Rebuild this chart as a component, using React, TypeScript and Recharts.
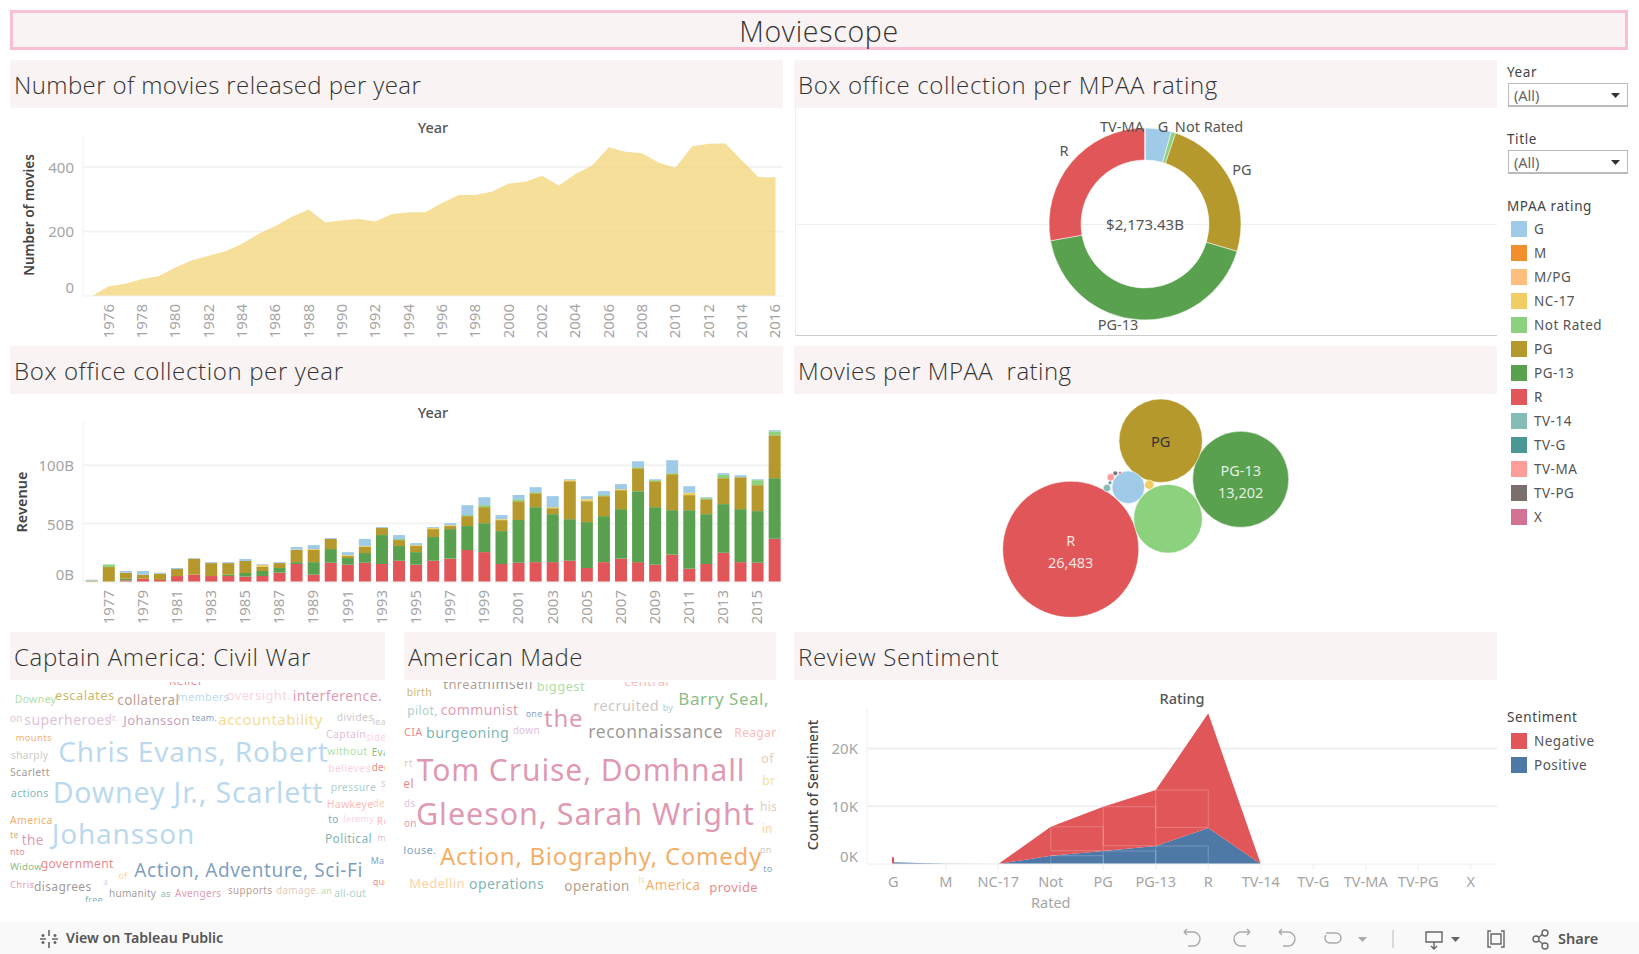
import { AreaChart, Area, BarChart, Bar, ComposedChart, PieChart, Pie, Cell, ScatterChart, Scatter, XAxis, YAxis, ZAxis, CartesianGrid, ReferenceArea } from 'recharts'

const FONT = '"Noto Sans", sans-serif'
const TITLE_FONT = '"Open Sans", sans-serif'

const colors: Record<string, string> = {
  G: '#a0cbe8', M: '#f28e2b', 'M/PG': '#ffbe7d', 'NC-17': '#f1ce63', 'Not Rated': '#8cd17d', PG: '#b6992d',
  'PG-13': '#59a14f', R: '#e15759', 'TV-14': '#86bcb6', 'TV-G': '#499894', 'TV-MA': '#ff9d9a', 'TV-PG': '#79706e', X: '#d37295',
}
const ratings = Object.keys(colors)

// movies per year
const movieYears = [1975, 1976, 1977, 1978, 1979, 1980, 1981, 1982, 1983, 1984, 1985, 1986, 1987, 1988, 1989, 1990, 1991, 1992, 1993, 1994, 1995, 1996, 1997, 1998, 1999, 2000, 2001, 2002, 2003, 2004, 2005, 2006, 2007, 2008, 2009, 2010, 2011, 2012, 2013, 2014, 2015, 2016]
const movieCounts = [0, 30, 38, 53, 61, 88, 111, 125, 139, 162, 193, 217, 246, 268, 228, 235, 239, 231, 254, 260, 260, 288, 313, 313, 324, 349, 354, 373, 343, 378, 405, 461, 447, 443, 413, 398, 464, 472, 473, 419, 368, 368]
const movieYearTicks = [1976, 1978, 1980, 1982, 1984, 1986, 1988, 1990, 1992, 1994, 1996, 1998, 2000, 2002, 2004, 2006, 2008, 2010, 2012, 2014, 2016]

// revenue per year in billions, stacked by rating
const revenueYears = ['1976', '1977', '1978', '1979', '1980', '1981', '1982', '1983', '1984', '1985', '1986', '1987', '1988', '1989', '1990', '1991', '1992', '1993', '1994', '1995', '1996', '1997', '1998', '1999', '2000', '2001', '2002', '2003', '2004', '2005', '2006', '2007', '2008', '2009', '2010', '2011', '2012', '2013', '2014', '2015', '2016']
const revenueYearTicks = revenueYears.filter((y) => Number(y) % 2 === 1)
const revR = [0, 0, 1.4, 2.8, 1.7, 5.1, 6.3, 5.1, 5.1, 4.6, 5.1, 8, 15.4, 6.3, 16.5, 14.8, 16.5, 15.4, 18.2, 14.8, 18.2, 20, 27.4, 25.6, 15.4, 16.5, 17, 17, 18.2, 12, 17, 20, 17, 14.8, 23.4, 11.4, 15.4, 25, 17, 16.5, 37]
const revPG13 = [0, 0, 1.4, 0, 0, 0, 0, 0, 1.2, 3.1, 4.3, 4, 1.6, 10.7, 11.7, 5.7, 8.3, 24.8, 12.6, 10.8, 20.3, 25.3, 20.5, 24.8, 28.2, 36.5, 47.1, 41.1, 35.6, 39.3, 39.4, 42.4, 60.8, 49.3, 38.1, 50.1, 42.7, 41.7, 45.4, 44.2, 51.9]
const revPG = [1.2, 12.8, 5.2, 3.5, 5.4, 6, 13.7, 11.1, 9.9, 10.3, 3.4, 4.2, 10.4, 10.4, 8.6, 1.7, 5.2, 6, 5.1, 5.2, 6.8, 2.6, 8.5, 13.7, 9.4, 16.2, 11.9, 5.1, 32.5, 17.9, 17.1, 16.2, 19.6, 22.2, 30.8, 12.9, 12.8, 22.2, 27.3, 22.2, 36.7]
const revNC17 = [0, 0, 0, 0, 0, 0, 0, 0, 0, 0, 2, 0, 0.3, 0.8, 0, 0.8, 0.8, 0, 0, 0.8, 0.9, 0.8, 0, 0, 0.8, 0, 0, 0.9, 0.9, 1.7, 0, 0.9, 0, 0, 0, 2, 0, 0, 0, 0, 0]
const revNR = [0, 2.2, 0, 0, 0, 0, 0, 0, 0, 0, 0, 0, 0, 0, 0, 0, 0, 0, 0.9, 0, 0, 0, 0.9, 1.7, 0, 1.7, 0.9, 0, 0, 0, 0.9, 0, 0.9, 0.9, 0.9, 0, 0.9, 2.8, 0, 4.3, 3.4]
const revG = [0.8, 0, 1.4, 3.1, 0.9, 0.9, 0.5, 0.8, 0.8, 1.7, 0.6, 0.8, 2.3, 3.4, 0.8, 2.6, 6, 0.8, 3.4, 1.7, 0.8, 1.7, 8.5, 6.8, 3.5, 3.5, 4.3, 9.4, 0.8, 2.6, 3.4, 4.3, 5.1, 0.8, 11.1, 5.6, 0.8, 1.5, 1.8, 0.8, 1]
const revSeries = [
  { key: 'R', values: revR },
  { key: 'PG-13', values: revPG13 },
  { key: 'PG', values: revPG },
  { key: 'NC-17', values: revNC17 },
  { key: 'Not Rated', values: revNR },
  { key: 'G', values: revG },
]

// box office per rating, billions
const donutNames = ['G', 'Not Rated', 'PG', 'PG-13', 'R', 'TV-MA']
const donutValues = [96.4, 16.3, 530.7, 926, 603.6, 0.43]
const donutLabelOffset: Record<string, [number, number]> = {
  G: [18, -97], 'Not Rated': [64, -97], PG: [97, -54], 'PG-13': [-27, 101], R: [-81, -73], 'TV-MA': [-23, -97],
}

// packed bubbles: placement in the 702x224 panel, counts from the bubble sizes
const bubbleNames = ['R', 'PG-13', 'PG', 'Not Rated', 'G', 'NC-17', 'TV-MA', 'TV-14', 'TV-G', 'TV-PG', 'X']
const bubbleCounts = [26483, 13202, 9960, 6740, 1520, 126, 78, 78, 17, 30, 13]
const bubbleX = [275.7, 445.7, 365.7, 373, 333.3, 354.3, 315.7, 312, 315, 320.3, 325]
const bubbleY = [156.3, 86.3, 47.7, 125.7, 94.3, 91.7, 84.3, 95, 89.7, 80.3, 79.7]

// sentiment
const sentimentRatings = ['G', 'M', 'NC-17', 'Not Rated', 'PG', 'PG-13', 'R', 'TV-14', 'TV-G', 'TV-MA', 'TV-PG', 'X']
const sentimentPositive = [290, 30, 0, 1440, 2250, 3110, 6220, 0, 0, 0, 0, 0]
const sentimentNegative = [0, 0, 0, 5015, 7664, 9685, 19850, 0, 0, 0, 0, 0]
const sentimentSpike = [1150, 0, 0, 0, 0, 0, 0, 0, 0, 0, 0, 0]

const civilWarWords = ['Keller', 'Downey', 'escalates', 'collateral', 'members', 'oversight.', 'interference.', 'on', 'superheroes', 'Jr.', 'Johansson', 'team.', 'accountability', 'divides', 'lea', 'mounts', 'Chris Evans, Robert', 'Captain', 'side', 'sharply', 'without', 'Eva', 'Scarlett', 'believes', 'dee', 'actions', 'Downey Jr., Scarlett', 'pressure', 's', 'Hawkeye', 'de', 'America', 'to', 'Jeremy', 'Ro', 'te', 'the', 'Johansson', 'Political', 'm', 'nto', 'Widow', 'government', 'of', 'Action, Adventure, Sci-Fi', 'Ma', 'Chris', 'a', 'disagrees', 'que', 'humanity', 'as', 'Avengers', 'supports', 'damage.', 'an', 'all-out', 'free']
// x, baseline (3x crop units), font size, colour
const civilWarPlacement: [number, number, number, string][] = [
  [507, 45, 12, '#e15759'], [44, 100, 10.5, '#8cd17d'], [165, 90, 13, '#b6992d'], [352, 105, 13.5, '#9d7660'], [532, 92, 11, '#a0cbe8'], [680, 90, 13, '#fabfd2'], [878, 92, 14, '#d37295'],
  [30, 157, 10, '#d4a6c8'], [73, 164, 14, '#d4a6c8'], [328, 152, 9, '#d4a6c8'], [370, 166, 13, '#b07aa1'], [575, 152, 9, '#4e79a7'], [655, 165, 15, '#f1ce63'], [1010, 152, 10.5, '#bab0ac'], [1118, 165, 9, '#bab0ac'],
  [47, 212, 9.5, '#f28e2b'], [175, 277, 28, '#a0cbe8'], [978, 205, 10.5, '#d4a6c8'], [1098, 212, 10, '#fabfd2'], [33, 268, 10.2, '#bab0ac'], [982, 256, 10.5, '#8cd17d'], [1115, 258, 10, '#59a14f'],
  [30, 318, 10.5, '#79706e'], [985, 306, 10.5, '#fabfd2'], [1115, 304, 10, '#e15759'], [33, 382, 10.5, '#499894'], [158, 398, 28.5, '#a0cbe8'], [992, 364, 10.5, '#86bcb6'], [1143, 350, 10, '#d4a6c8'],
  [980, 415, 10.5, '#ff9d9a'], [1118, 412, 10, '#ffbe7d'], [30, 462, 10.5, '#f28e2b'], [985, 458, 10, '#4e79a7'], [1030, 456, 9, '#fabfd2'], [1130, 465, 10, '#ff9d9a'], [30, 503, 9, '#b6992d'],
  [65, 525, 13.5, '#d37295'], [155, 523, 28, '#a0cbe8'], [975, 518, 12, '#499894'], [1132, 512, 9, '#d4a6c8'], [30, 555, 9, '#e15759'], [30, 600, 9.7, '#59a14f'], [122, 595, 12, '#e15759'], [355, 628, 9, '#ffbe7d'],
  [403, 620, 19, '#4e79a7'], [1112, 583, 9, '#4e79a7'], [30, 655, 9.5, '#d37295'], [310, 645, 8, '#a0cbe8'], [102, 662, 12, '#79706e'], [1118, 645, 9, '#e15759'], [327, 682, 10, '#79706e'], [482, 680, 9, '#499894'],
  [525, 682, 10, '#d37295'], [684, 673, 10, '#9d7660'], [828, 673, 10, '#d7b5a6'], [963, 673, 9, '#8cd17d'], [1003, 682, 10, '#86bcb6'], [255, 700, 9, '#499894'],
]

const americanMadeWords = ['threat', 'himself', 'biggest', 'central', 'birth', 'Barry Seal,', 'recruited', 'by', 'pilot,', 'communist', 'one', 'the', 'CIA', 'burgeoning', 'down', 'reconnaissance', 'Reagan', 'rt', 'Tom Cruise, Domhnall', 'of', 'el', 'br', 'ds', 'Gleeson, Sarah Wright', 'his', 'on', 'in', 'House.', 'Action, Biography, Comedy', 'on', 'to', 'Medellin', 'operations', 'operation', 'is', 'America', 'provide']
const americanMadePlacement: [number, number, number, string][] = [
  [145, 58, 13, '#9d7660'], [262, 58, 14, '#79706e'], [425, 64, 13, '#8cd17d'], [688, 47, 13, '#ff9d9a'], [35, 77, 10.5, '#b6992d'], [850, 105, 17, '#59a14f'], [595, 122, 14.5, '#bab0ac'], [803, 122, 9, '#86bcb6'],
  [37, 135, 12, '#86bcb6'], [137, 135, 14, '#d37295'], [392, 140, 9, '#4e79a7'], [447, 170, 24, '#d37295'], [27, 197, 11, '#e15759'], [93, 205, 14.3, '#499894'], [353, 192, 10, '#d4a6c8'], [580, 203, 17.5, '#79706e'], [1018, 202, 12, '#ff9d9a'],
  [27, 292, 11, '#d7b5a6'], [65, 333, 30, '#d37295'], [1098, 280, 13, '#d7b5a6'], [25, 353, 12, '#e15759'], [1102, 345, 12, '#f1ce63'], [27, 412, 10, '#d4a6c8'], [63, 465, 30.5, '#d37295'], [1095, 422, 12, '#d7b5a6'],
  [27, 472, 10, '#d37295'], [1100, 490, 12, '#ffbe7d'], [10, 552, 11, '#4e79a7'], [135, 585, 24, '#f28e2b'], [1095, 550, 9, '#bab0ac'], [1105, 605, 9, '#4e79a7'], [43, 655, 13, '#ffbe7d'], [222, 656, 14, '#499894'],
  [508, 662, 13.5, '#9d7660'], [730, 640, 8, '#ffbe7d'], [752, 660, 13.5, '#f28e2b'], [943, 665, 13, '#e15759'],
]

const movieData = movieYears.map((year, i) => ({ year, count: movieCounts[i] }))
const revenueData = revenueYears.map((year, i) => {
  const row: Record<string, string | number> = { year }
  revSeries.forEach((s) => { row[s.key] = s.values[i] })
  return row
})
const donutData = donutNames.map((name, i) => ({ name, value: donutValues[i] }))
const bubbleData = bubbleNames.map((name, i) => ({ name, x: bubbleX[i], y: bubbleY[i], z: bubbleCounts[i] }))
const sentimentData = sentimentRatings.map((rating, i) => ({ rating, positive: sentimentPositive[i], negative: sentimentNegative[i], spike: sentimentSpike[i] }))

const box = (left: number, top: number, width: number, height: number): React.CSSProperties => ({ position: 'absolute', left, top, width, height })

function Header({ left, top, width, text, spacing = 0.65 }: { left: number; top: number; width: number; text: string; spacing?: number }) {
  return (
    <div style={{ ...box(left, top, width, 47.5), background: '#f9f3f3', color: '#333', font: `300 24px ${TITLE_FONT}`, letterSpacing: spacing, lineHeight: '49px', paddingLeft: 4, boxSizing: 'border-box', whiteSpace: 'pre' }}>
      {text}
    </div>
  )
}

function Heading({ x, y, text }: { x: number; y: number; text: string }) {
  return <div style={{ position: 'absolute', left: x - 60, width: 120, top: y - 9, height: 20, lineHeight: '20px', textAlign: 'center', font: `500 14.5px ${FONT}`, color: '#555' }}>{text}</div>
}

function VerticalTitle({ x, y, text, weight = 600, size = 13.5 }: { x: number; y: number; text: string; weight?: number; size?: number }) {
  return (
    <div style={{ position: 'absolute', left: x - 100, width: 200, top: y - 10, height: 20, lineHeight: '20px', textAlign: 'center', transform: 'rotate(-90deg)', font: `${weight} ${size}px ${FONT}`, color: '#444' }}>
      {text}
    </div>
  )
}

// tableau pushes the bottom label up so it stays inside the pane
function ValueTick({ x, y, payload, suffix = '', nudge = 8 }: any) {
  return (
    <text x={x - 1} y={payload.value === 0 ? y - nudge : y} dy={6} textAnchor="end" fontFamily={FONT} fontSize={15} fill="#a5a5a5">
      {payload.value / (suffix === 'K' ? 1000 : 1)}{suffix}
    </text>
  )
}

function RotatedTick({ x, y, payload }: any) {
  return (
    <text transform={`rotate(-90 ${x} ${y})`} x={x} y={y} dy={5} textAnchor="end" fontFamily={FONT} fontSize={15} fill="#a5a5a5">
      {payload.value}
    </text>
  )
}

function RatingTick({ x, y, payload }: any) {
  const parts = String(payload.value).split(' ')
  return (
    <text x={x} y={y + 15} textAnchor="middle" fontFamily={FONT} fontSize={14.5} fill="#a5a5a5">
      {parts.map((p, i) => <tspan key={p} x={x} dy={i === 0 ? 0 : 21}>{p}</tspan>)}
    </text>
  )
}

function renderDonutLabel(props: any) {
  const [dx, dy] = donutLabelOffset[props.name]
  return <text x={props.cx + dx} y={props.cy + dy} dy={5} textAnchor="middle" fontFamily={FONT} fontSize={14.5} fill="#555">{props.name}</text>
}

function BubbleShape(props: any) {
  const { cx, cy, width, payload } = props
  const name = payload.name
  const count = name === 'R' || name === 'PG-13' ? payload.z.toLocaleString('en-US') : null
  const showName = name === 'R' || name === 'PG-13' || name === 'PG'
  const textFill = name === 'PG' ? '#333' : 'rgba(255,255,255,0.85)'
  return (
    <g>
      <circle cx={cx} cy={cy} r={width / 2} fill={colors[name]} stroke="#fff" strokeOpacity={0.5} />
      {showName && <text x={cx} y={count ? cy - 8 : cy + 1} dy={5} textAnchor="middle" fontFamily={FONT} fontSize={14.5} fill={textFill}>{name}</text>}
      {count && <text x={cx} y={cy + 14} dy={5} textAnchor="middle" fontFamily={FONT} fontSize={14.5} fill={textFill}>{count}</text>}
    </g>
  )
}

// ReferenceArea spans from the start of x1's band to the end of x2's, the reference boxes go centre to centre
function CentreBox(props: any) {
  return <rect x={props.x + props.width / 4} y={props.y} width={props.width / 2} height={props.height} fill="none" stroke="#fff" strokeOpacity={0.22} />
}

function WordCloud({ left, top, width, height, originX, words, placement }: { left: number; top: number; width: number; height: number; originX: number; words: string[]; placement: [number, number, number, string][] }) {
  return (
    <svg width={width} height={height} style={{ position: 'absolute', left, top }}>
      {words.map((word, i) => {
        const [x, y, size, color] = placement[i]
        return <text key={i} x={originX + x / 3 - left} y={670 + y / 3 - top} fontFamily={FONT} fontSize={size} letterSpacing={size * 0.03} fill={color} fillOpacity={0.72}>{word}</text>
      })}
    </svg>
  )
}

function Dropdown({ top }: { top: number }) {
  return (
    <div style={{ ...box(1508, top, 120, 24), border: '1px solid #bbb', borderBottomWidth: 2, boxSizing: 'border-box', font: `14.5px/22px ${FONT}`, color: '#666', paddingLeft: 5 }}>
      (All)
      <svg width={10} height={6} style={{ position: 'absolute', right: 6, top: 9 }}><path d="M0 0h9l-4.5 5z" fill="#333" /></svg>
    </div>
  )
}

function LegendRow({ top, color, label }: { top: number; color: string; label: string }) {
  return (
    <>
      <div style={{ ...box(1511, top - 8, 16, 16), background: color }} />
      <div style={{ position: 'absolute', left: 1534, top: top - 9, lineHeight: '20px', font: `13.5px ${FONT}`, color: '#555', letterSpacing: 0.5 }}>{label}</div>
    </>
  )
}

function SideLabel({ top, text }: { top: number; text: string }) {
  return <div style={{ position: 'absolute', left: 1507, top: top - 9, lineHeight: '20px', font: `13.5px ${FONT}`, color: '#444', letterSpacing: 0.6 }}>{text}</div>
}

function Toolbar() {
  const stroke = { fill: 'none', stroke: '#aaa', strokeWidth: 1.4 }
  const dark = { fill: 'none', stroke: '#666', strokeWidth: 1.4 }
  return (
    <div style={{ ...box(0, 922, 1639, 32), background: '#f9f9f9' }}>
      <svg width={1639} height={32} style={{ position: 'absolute', left: 0, top: 1 }}>
        <g transform="translate(49 16)" stroke="#666" strokeWidth={1.6}>
          <path d="M-9 0H-3M3 0H9M0 -9V-3M0 3V9M-6 -5V-2M-7.5 -3.5H-4.5M6 -5V-2M4.5 -3.5H7.5M-6 5V2M-7.5 3.5H-4.5M6 5V2M4.5 3.5H7.5" />
        </g>
        <path d="M1184 9h9a6 6 0 0 1 0 14h-5M1184 9l3-3M1184 9l3 3" {...stroke} />
        <path d="M1250 9h-9a6 6 0 0 0 0 14h5M1250 9l-3-3M1250 9l-3 3" {...stroke} />
        <path d="M1279 9h9a6 6 0 0 1 0 14h-5M1279 9l3-3M1279 9l3 3" {...stroke} />
        <path d="M1326 10h10a5 5 0 0 1 0 10h-6a5 5 0 0 1-4-8" {...stroke} />
        <path d="M1358 14h9l-4.5 5z" fill="#aaa" />
        <path d="M1393 7v18" stroke="#bbb" />
        <path d="M1426 9h16v10h-16zM1434 19v6M1431 23l3 3 3-3" {...dark} />
        <path d="M1451 14h9l-4.5 5z" fill="#666" />
        <path d="M1491 8h-3v16h3M1501 8h3v16h-3M1491 11h10v10h-10z" {...dark} />
        <circle cx={1536} cy={16} r={3} {...dark} />
        <circle cx={1545} cy={10} r={3} {...dark} />
        <circle cx={1545} cy={23} r={3} {...dark} />
        <path d="M1539 14l4-3M1539 18l4 3" {...dark} />
      </svg>
      <div style={{ position: 'absolute', left: 66, top: 6, lineHeight: '22px', font: `600 14.2px ${FONT}`, color: '#555' }}>View on Tableau Public</div>
      <div style={{ position: 'absolute', left: 1558, top: 6, lineHeight: '22px', font: `600 14.5px ${FONT}`, color: '#555' }}>Share</div>
    </div>
  )
}

export default function App() {
  return (
    <div style={{ position: 'absolute', left: 0, top: 0, width: 1639, height: 954, background: '#fff', overflow: 'hidden' }}>
      <div style={{ ...box(10, 10, 1618, 40), background: '#f9f3f3', border: '3px solid #fbbfd3', boxSizing: 'border-box', textAlign: 'center', font: `300 28.5px/36px ${TITLE_FONT}`, color: '#333', letterSpacing: 0.7 }}>
        Moviescope
      </div>

      <Header left={10} top={60} width={773} text="Number of movies released per year" spacing={0.4} />
      <Header left={794} top={60} width={703} text="Box office collection per MPAA rating" />
      <Header left={10} top={346} width={773} text="Box office collection per year" />
      <Header left={794} top={346} width={703} text="Movies per MPAA  rating" spacing={0.45} />
      <Header left={10} top={632} width={375} text="Captain America: Civil War" />
      <Header left={404} top={632} width={372} text="American Made" spacing={0.45} />
      <Header left={794} top={632} width={703} text="Review Sentiment" />

      <div style={{ ...box(10, 108, 773, 230) }}>
        <AreaChart width={773} height={230} data={movieData} margin={{ top: 29, right: 0, bottom: 0, left: 0 }}>
          <CartesianGrid vertical={false} horizontalValues={[200, 400]} stroke="#f3f3f3" strokeWidth={2} />
          <XAxis dataKey="year" type="number" domain={[1974.46, 2016.45]} ticks={movieYearTicks} interval={0} height={42} tickLine={false} axisLine={{ stroke: '#f0f0f0' }} tick={<RotatedTick />} />
          <YAxis domain={[0, 493]} ticks={[0, 200, 400]} width={73} tickLine={false} axisLine={{ stroke: '#f0f0f0' }} tickMargin={2} tick={<ValueTick nudge={9} />} />
          <Area dataKey="count" type="linear" fill="#f1ce63" fillOpacity={0.65} stroke="none" isAnimationActive={false} />
        </AreaChart>
      </div>
      <Heading x={433} y={126} text="Year" />
      <VerticalTitle x={30} y={215} text="Number of movies" />

      <div style={{ ...box(795, 108, 702, 228), borderLeft: '1px solid #eee', borderBottom: '1px solid #ccc', boxSizing: 'border-box' }} />
      <div style={{ ...box(795, 224, 702, 1), background: '#eee' }} />
      <div style={box(795, 108, 702, 228)}>
        <PieChart width={702} height={228} margin={{ top: 0, right: 0, bottom: 0, left: 0 }}>
          <Pie data={donutData} dataKey="value" nameKey="name" cx={350} cy={116} innerRadius={64} outerRadius={96} startAngle={90} endAngle={-270} stroke="#fff" strokeWidth={0.5} label={renderDonutLabel} labelLine={false} isAnimationActive={false}>
            {donutData.map((d) => <Cell key={d.name} fill={colors[d.name]} />)}
          </Pie>
          <text x={350} y={117} dy={5} textAnchor="middle" fontFamily={FONT} fontSize={15} fill="#555">$2,173.43B</text>
        </PieChart>
      </div>

      <div style={box(10, 393, 773, 235)}>
        <BarChart width={773} height={235} data={revenueData} margin={{ top: 29, right: 0, bottom: 0, left: 0 }} barCategoryGap="16%">
          <CartesianGrid vertical={false} horizontalValues={[50, 100]} stroke="#f3f3f3" strokeWidth={2} />
          <XAxis dataKey="year" ticks={revenueYearTicks} interval={0} height={46} tickLine={false} axisLine={{ stroke: '#f0f0f0' }} tick={<RotatedTick />} />
          <YAxis domain={[0, 137]} ticks={[0, 50, 100]} width={73} tickLine={false} axisLine={{ stroke: '#f0f0f0' }} tickMargin={2} tick={<ValueTick suffix="B" nudge={8} />} />
          {revSeries.map((s) => (
            <Bar key={s.key} dataKey={s.key} stackId="rev" fill={colors[s.key]} isAnimationActive={false} />
          ))}
        </BarChart>
      </div>
      <Heading x={433} y={411} text="Year" />
      <VerticalTitle x={21} y={502} text="Revenue" size={14.5} />

      <div style={box(795, 393, 702, 224)}>
        <ScatterChart width={702} height={224} margin={{ top: 0, right: 0, bottom: 0, left: 0 }}>
          <XAxis dataKey="x" type="number" domain={[0, 702]} hide />
          <YAxis dataKey="y" type="number" domain={[0, 224]} reversed hide />
          <ZAxis dataKey="z" type="number" domain={[0, 26483]} range={[0, 14527]} />
          <Scatter data={bubbleData} shape={<BubbleShape />} isAnimationActive={false} />
        </ScatterChart>
      </div>

      <WordCloud left={10} top={682} width={375} height={220} originX={0} words={civilWarWords} placement={civilWarPlacement} />
      <WordCloud left={404} top={682} width={372} height={220} originX={395} words={americanMadeWords} placement={americanMadePlacement} />

      <div style={box(794, 679, 703, 240)}>
        <ComposedChart width={703} height={240} data={sentimentData} margin={{ top: 29, right: 0, bottom: 0, left: 0 }}>
          <CartesianGrid vertical={false} horizontalValues={[10000, 20000]} stroke="#f0f0f0" strokeWidth={2} />
          <XAxis dataKey="rating" interval={0} height={55} tickLine={{ stroke: '#eee' }} axisLine={{ stroke: '#eee' }} tick={<RatingTick />} />
          <YAxis domain={[0, 27000]} ticks={[0, 10000, 20000]} width={73} tickLine={false} axisLine={{ stroke: '#f0f0f0' }} tickMargin={2} tick={<ValueTick suffix="K" nudge={8} />} />
          <Bar dataKey="spike" fill="#e15759" barSize={2} isAnimationActive={false} />
          <Area dataKey="positive" stackId="s" type="linear" fill="#4e79a7" fillOpacity={1} stroke="none" isAnimationActive={false} />
          <Area dataKey="negative" stackId="s" type="linear" fill="#e15759" fillOpacity={1} stroke="none" isAnimationActive={false} />
          <ReferenceArea x1="Not Rated" x2="PG" y1={2300} y2={6455} shape={<CentreBox />} />
          <ReferenceArea x1="PG" x2="PG-13" y1={3170} y2={9914} shape={<CentreBox />} />
          <ReferenceArea x1="PG-13" x2="R" y1={6340} y2={12795} shape={<CentreBox />} />
          <ReferenceArea x1="Not Rated" x2="PG" y1={0} y2={1440} shape={<CentreBox />} />
          <ReferenceArea x1="PG" x2="PG-13" y1={0} y2={2250} shape={<CentreBox />} />
          <ReferenceArea x1="PG-13" x2="R" y1={0} y2={3110} shape={<CentreBox />} />
        </ComposedChart>
      </div>
      <Heading x={1182} y={697} text="Rating" />
      <VerticalTitle x={813} y={785} text="Count of Sentiment" weight={500} size={14} />

      <SideLabel top={72} text="Year" />
      <Dropdown top={83} />
      <SideLabel top={139} text="Title" />
      <Dropdown top={150} />
      <SideLabel top={206} text="MPAA rating" />
      {ratings.map((r, i) => <LegendRow key={r} top={229 + i * 24} color={colors[r]} label={r} />)}
      <SideLabel top={717} text="Sentiment" />
      <LegendRow top={741} color="#e15759" label="Negative" />
      <LegendRow top={765} color="#4e79a7" label="Positive" />

      <Toolbar />
    </div>
  )
}
